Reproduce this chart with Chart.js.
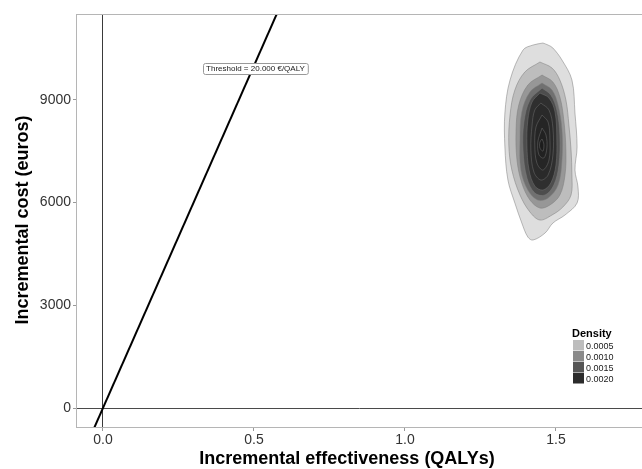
<!DOCTYPE html>
<html><head><meta charset="utf-8">
<script src="https://cdn.jsdelivr.net/npm/chart.js@4"></script>
<style>html,body{margin:0;padding:0;background:#fff}canvas{display:block}</style>
</head><body>
<canvas id="c" width="642" height="469"></canvas>
<script>
// ---- data ----
const xTicks = [0, 0.5, 1.0, 1.5];
const xTickLabels = ['0.0', '0.5', '1.0', '1.5'];
const yTicks = [0, 3000, 6000, 9000];
const yTickLabels = ['0', '3000', '6000', '9000'];
const xRange = [-0.086, 1.785];
const yRange = [-555, 11510];
const wtpThreshold = 20000;
const thresholdLabel = 'Threshold = 20.000 €/QALY';
const thresholdLabelPos = [0.505, 9930];
const xTitle = 'Incremental effectiveness (QALYs)';
const yTitle = 'Incremental cost (euros)';
const legendTitle = 'Density';
const legendLabels = ['0.0005', '0.0010', '0.0015', '0.0020'];
const legendColors = ['#bdbdbd', '#8a8a8a', '#555555', '#2b2b2b'];

// density contour polygons (outer -> inner), in data units [QALY, euros]
const contour1 = [[1.457,10662],[1.474,10603],[1.490,10516],[1.520,10165],[1.553,9581],[1.563,8617],[1.570,7624],[1.563,6952],[1.573,6455],[1.570,5988],[1.530,5638],[1.490,5404],[1.464,5112],[1.424,4907],[1.407,4995],[1.387,5404],[1.364,5988],[1.341,6660],[1.331,7624],[1.331,8617],[1.348,9581],[1.391,10457],[1.424,10603]];
const contour2 = [[1.447,10107],[1.487,9931],[1.513,9581],[1.533,8997],[1.543,8266],[1.550,7536],[1.553,6806],[1.550,6222],[1.523,5871],[1.487,5638],[1.447,5491],[1.414,5725],[1.381,6222],[1.354,6952],[1.344,7682],[1.348,8559],[1.364,9289],[1.397,9815]];
const contour3 = [[1.454,9727],[1.490,9522],[1.513,9084],[1.526,8412],[1.533,7536],[1.530,6806],[1.513,6222],[1.480,5930],[1.447,5842],[1.414,6076],[1.387,6572],[1.371,7244],[1.368,8120],[1.377,8851],[1.407,9435]];
const contour4 = [[1.454,9493],[1.487,9289],[1.507,8851],[1.520,8120],[1.520,7244],[1.507,6514],[1.474,6134],[1.440,6076],[1.407,6368],[1.384,6952],[1.381,7828],[1.387,8646],[1.414,9230]];
const contour5 = [[1.454,9347],[1.483,9143],[1.503,8705],[1.513,7974],[1.510,7098],[1.493,6514],[1.464,6222],[1.430,6280],[1.404,6718],[1.391,7536],[1.394,8354],[1.414,8997]];
const contour6 = [[1.447,9201],[1.477,9055],[1.497,8646],[1.503,7828],[1.500,7098],[1.483,6572],[1.457,6368],[1.430,6485],[1.411,6952],[1.404,7682],[1.407,8412],[1.421,8938]];
const contour7 = [[1.450,8909],[1.477,8705],[1.490,8179],[1.490,7390],[1.474,6806],[1.450,6660],[1.427,6894],[1.417,7536],[1.421,8266],[1.430,8705]];
const contour8 = [[1.454,8559],[1.474,8354],[1.480,7828],[1.477,7244],[1.457,6952],[1.437,7156],[1.430,7682],[1.434,8208]];
const contour9 = [[1.454,8179],[1.467,7974],[1.470,7595],[1.460,7303],[1.444,7390],[1.440,7770]];
const contour10 = [[1.454,7857],[1.460,7711],[1.457,7507],[1.447,7595],[1.447,7770]];
const contours = [contour1, contour2, contour3, contour4, contour5, contour6, contour7, contour8, contour9, contour10];
const contourFills = ['#dedede', '#bdbdbd', '#979797', '#707070', '#4d4d4d', '#2f2f2f', '#2a2a2a', '#252525', '#212121', '#1c1c1c'];

// ---- build ----
const FONT = '"Liberation Sans", Arial, Helvetica, sans-serif';
const datasets = contours.map((poly, i) => ({
  data: poly.concat([poly[0]]).map(p => ({x: p[0], y: p[1]})),
  showLine: true,
  fill: 'shape',
  backgroundColor: contourFills[i],
  borderColor: i < 5 ? 'rgba(125,125,125,0.85)' : 'rgba(115,115,115,0.8)',
  borderWidth: 0.6,
  tension: 0.35,
  pointRadius: 0,
  order: contours.length - i + 1
}));
datasets.push({
  data: [yRange[0] - 500, yRange[1] + 500].map(c => ({x: c / wtpThreshold, y: c})),
  showLine: true, fill: false, borderColor: '#000', borderWidth: 2, pointRadius: 0, order: 0
});

const zeroGrid = (col) => (ctx) => (ctx.tick && ctx.tick.value === 0) ? col : 'rgba(0,0,0,0)';

const decor = {
  id: 'decor',
  afterDraw(chart) {
    const {ctx, chartArea: a, scales} = chart;
    ctx.save();
    // panel border
    ctx.strokeStyle = '#b5b5b5'; ctx.lineWidth = 1;
    ctx.strokeRect(a.left - 0.5, a.top + 0.5, a.right - a.left + 1, a.bottom - a.top);
    // threshold label
    const lx = scales.x.getPixelForValue(thresholdLabelPos[0]);
    const ly = scales.y.getPixelForValue(thresholdLabelPos[1]);
    ctx.font = '8px ' + FONT;
    const tw = ctx.measureText(thresholdLabel).width;
    const bw = tw + 6, bh = 11;
    ctx.beginPath();
    if (ctx.roundRect) ctx.roundRect(Math.round(lx - bw/2) + 0.5, Math.round(ly - bh/2) + 0.5, bw, bh, 2);
    else ctx.rect(Math.round(lx - bw/2) + 0.5, Math.round(ly - bh/2) + 0.5, bw, bh);
    ctx.fillStyle = '#fff'; ctx.fill();
    ctx.strokeStyle = '#999'; ctx.lineWidth = 1; ctx.stroke();
    ctx.fillStyle = '#1a1a1a'; ctx.textAlign = 'center'; ctx.textBaseline = 'middle';
    ctx.fillText(thresholdLabel, lx, ly + 0.5);
    // legend
    ctx.textAlign = 'left'; ctx.textBaseline = 'alphabetic';
    ctx.font = 'bold 11px ' + FONT; ctx.fillStyle = '#000';
    ctx.fillText(legendTitle, 572, 337);
    ctx.font = '9px ' + FONT;
    legendColors.forEach((c, i) => {
      const y = 340 + i * 11;
      ctx.fillStyle = c; ctx.fillRect(573, y, 11, 10.5);
      ctx.fillStyle = '#1a1a1a'; ctx.fillText(legendLabels[i], 586, y + 8.5);
    });
    // axis titles
    ctx.fillStyle = '#000'; ctx.font = 'bold 18px ' + FONT;
    ctx.textAlign = 'center'; ctx.textBaseline = 'middle';
    ctx.fillText(xTitle, 347, 459);
    ctx.translate(23, 220); ctx.rotate(-Math.PI / 2);
    ctx.fillText(yTitle, 0, 0);
    ctx.restore();
  }
};

new Chart(document.getElementById('c'), {
  type: 'scatter',
  data: {datasets},
  plugins: [decor],
  options: {
    responsive: false, animation: false,
    layout: {padding: {top: 14, right: 0, left: 0, bottom: 0}},
    plugins: {legend: {display: false}, tooltip: {enabled: false}},
    scales: {
      x: {
        type: 'linear', min: xRange[0], max: xRange[1],
        afterBuildTicks: s => { s.ticks = xTicks.map(v => ({value: v})); },
        afterFit: s => { s.height = 42; },
        ticks: {callback: v => xTickLabels[xTicks.indexOf(v)], color: '#333', font: {family: FONT, size: 14}, padding: 1, maxRotation: 0, autoSkip: false},
        grid: {color: zeroGrid('#3a3a3a'), tickColor: '#999', tickLength: 4, lineWidth: 1},
        border: {display: false}
      },
      y: {
        type: 'linear', min: yRange[0], max: yRange[1],
        afterBuildTicks: s => { s.ticks = yTicks.map(v => ({value: v})); },
        afterFit: s => { s.width = 77; },
        ticks: {callback: v => yTickLabels[yTicks.indexOf(v)], color: '#333', font: {family: FONT, size: 14}, padding: 2, autoSkip: false},
        grid: {color: zeroGrid('#4a4a4a'), tickColor: '#999', tickLength: 4, lineWidth: 1},
        border: {display: false}
      }
    }
  }
});
</script>
</body></html>
